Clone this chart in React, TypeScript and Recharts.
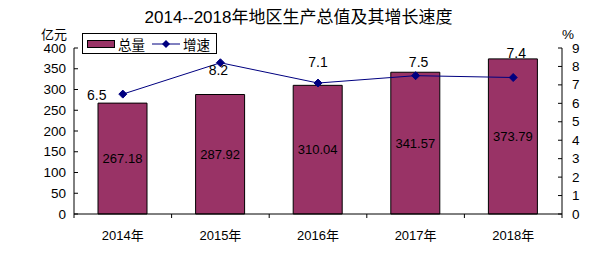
import { ComposedChart, Bar, Line, XAxis, YAxis, LabelList } from 'recharts'

// ─── Data ─────────────────────────────────────────────────────────────────────

const years = ['2014年', '2015年', '2016年', '2017年', '2018年']
const totals = [267.18, 287.92, 310.04, 341.57, 373.79] // 亿元
const growth = [6.5, 8.2, 7.1, 7.5, 7.4] // %
const leftTicks = [0, 50, 100, 150, 200, 250, 300, 350, 400]
const rightTicks = [0, 1, 2, 3, 4, 5, 6, 7, 8, 9]

// where each growth label sits relative to its point (dx, dy)
const growthLabelShift = [
  [-26, 1],
  [-2, 7],
  [0, -21],
  [3, -14],
  [3, -25],
]

const data = years.map((year, i) => ({ year, total: totals[i], growth: growth[i] }))

// ─── Styling ──────────────────────────────────────────────────────────────────

const FONT = '"Liberation Sans", Arial, "Noto Sans CJK SC", sans-serif'
const BAR_COLOR = '#993366'
const LINE_COLOR = '#000080'
const WIDTH = 597
const HEIGHT = 254
const MARGIN = { top: 48, right: 0, bottom: 10, left: 0 }
const LEFT_W = 74
const RIGHT_W = 35
const HALF_BAND = (WIDTH - LEFT_W - RIGHT_W) / years.length / 2

// ─── Custom ticks ─────────────────────────────────────────────────────────────

function LeftTick({ x, y, payload }: any) {
  return (
    <g>
      <line x1={x + 8} x2={x + 12} y1={y} y2={y} stroke="#000" />
      <text x={x} y={y} textAnchor="end" dominantBaseline="central" fontSize={13.5} fill="#000" fontFamily={FONT}>
        {payload.value}
      </text>
    </g>
  )
}

function RightTick({ x, y, payload }: any) {
  return (
    <g>
      <line x1={x - 10} x2={x - 14} y1={y} y2={y} stroke="#000" />
      <text x={x} y={y} textAnchor="start" dominantBaseline="central" fontSize={13.5} fill="#000" fontFamily={FONT}>
        {payload.value}
      </text>
    </g>
  )
}

function CategoryTick({ x, y, payload, index }: any) {
  const axisY = y - 21
  return (
    <g>
      <line x1={x - HALF_BAND} x2={x - HALF_BAND} y1={axisY} y2={axisY + 4} stroke="#000" />
      {index === years.length - 1 && (
        <line x1={x + HALF_BAND} x2={x + HALF_BAND} y1={axisY} y2={axisY + 4} stroke="#000" />
      )}
      <text x={x} y={y} textAnchor="middle" dominantBaseline="central" fontSize={13} fill="#000" fontFamily={FONT}>
        {payload.value}
      </text>
    </g>
  )
}

function Diamond({ cx, cy, index }: any) {
  return (
    <path
      key={`d-${index}`}
      d={`M${cx},${cy - 4}L${cx + 4},${cy}L${cx},${cy + 4}L${cx - 4},${cy}Z`}
      fill={LINE_COLOR}
      stroke={LINE_COLOR}
    />
  )
}

function GrowthLabel({ x, y, value, index }: any) {
  const [dx, dy] = growthLabelShift[index] ?? [0, -12]
  return (
    <text
      x={x + dx}
      y={y + dy}
      textAnchor="middle"
      dominantBaseline="central"
      fontSize={14}
      fill="#000"
      fontFamily={FONT}
    >
      {value}
    </text>
  )
}

// ─── Legend ───────────────────────────────────────────────────────────────────

function LegendBox() {
  return (
    <div
      style={{
        position: 'absolute',
        left: 82,
        top: 33,
        width: 135,
        height: 21,
        boxSizing: 'border-box',
        border: '1px solid #000',
        background: '#fff',
        display: 'flex',
        alignItems: 'center',
        paddingLeft: 4,
        fontSize: 13.5,
        fontFamily: FONT,
        color: '#000',
      }}
    >
      <span
        style={{
          width: 28,
          height: 8,
          boxSizing: 'border-box',
          background: BAR_COLOR,
          border: '1px solid #000',
          marginRight: 3,
        }}
      />
      <span>总量</span>
      <svg width={28} height={10} style={{ marginLeft: 7, marginRight: 3 }}>
        <line x1={0} x2={28} y1={5} y2={5} stroke={LINE_COLOR} />
        <path d="M14,1L18,5L14,9L10,5Z" fill={LINE_COLOR} />
      </svg>
      <span>增速</span>
    </div>
  )
}

// ─── Component ────────────────────────────────────────────────────────────────

export default function App() {
  return (
    <div
      style={{
        position: 'absolute',
        left: 0,
        top: 0,
        width: WIDTH,
        height: HEIGHT,
        background: '#fff',
        fontFamily: FONT,
      }}
    >
      <div
        style={{
          position: 'absolute',
          left: 0,
          top: 8,
          width: WIDTH,
          textAlign: 'center',
          fontSize: 17,
          lineHeight: '20px',
          color: '#000',
        }}
      >
        2014--2018年地区生产总值及其增长速度
      </div>

      <ComposedChart width={WIDTH} height={HEIGHT} data={data} margin={MARGIN}>
        <XAxis
          dataKey="year"
          height={30}
          axisLine={{ stroke: '#000' }}
          tickLine={false}
          tickSize={0}
          tickMargin={21}
          tick={<CategoryTick />}
          interval={0}
        />
        <YAxis
          yAxisId="left"
          orientation="left"
          width={LEFT_W}
          domain={[0, 400]}
          ticks={leftTicks}
          interval={0}
          axisLine={{ stroke: '#000' }}
          tickLine={false}
          tickSize={0}
          tickMargin={8}
          tick={<LeftTick />}
          label={({ viewBox }: any) => (
            <text
              x={viewBox.x + 54}
              y={viewBox.y - 14}
              textAnchor="middle"
              dominantBaseline="central"
              fontSize={13}
              fill="#000"
              fontFamily={FONT}
            >
              亿元
            </text>
          )}
        />
        <YAxis
          yAxisId="right"
          orientation="right"
          width={RIGHT_W}
          domain={[0, 9]}
          ticks={rightTicks}
          interval={0}
          axisLine={{ stroke: '#000' }}
          tickLine={false}
          tickSize={0}
          tickMargin={10}
          tick={<RightTick />}
          label={({ viewBox }: any) => (
            <text
              x={viewBox.x + 6}
              y={viewBox.y - 14}
              textAnchor="middle"
              dominantBaseline="central"
              fontSize={13.5}
              fill="#000"
              fontFamily={FONT}
            >
              %
            </text>
          )}
        />

        <Bar
          yAxisId="left"
          dataKey="total"
          name="总量"
          fill={BAR_COLOR}
          stroke="#000"
          strokeWidth={1}
          barSize={49}
          isAnimationActive={false}
        >
          <LabelList dataKey="total" position="center" fontSize={13} fill="#000" fontFamily={FONT} />
        </Bar>

        <Line
          yAxisId="right"
          dataKey="growth"
          name="增速"
          type="linear"
          stroke={LINE_COLOR}
          strokeWidth={1}
          dot={<Diamond />}
          activeDot={false}
          isAnimationActive={false}
        >
          <LabelList dataKey="growth" content={<GrowthLabel />} />
        </Line>
      </ComposedChart>

      <LegendBox />
    </div>
  )
}
